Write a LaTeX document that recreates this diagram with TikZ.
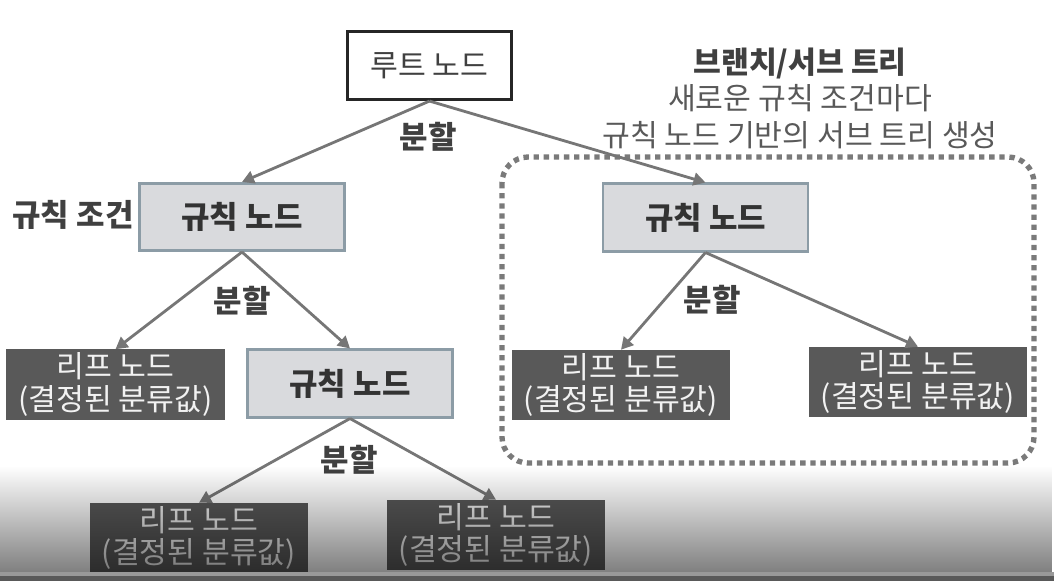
\documentclass[tikz,border=0pt]{standalone}
\usepackage{fontspec}
\setmainfont{Noto Sans CJK KR}
\usepackage{tikz}
\usetikzlibrary{arrows.meta,positioning,fadings}

\definecolor{edgegray}{HTML}{767676}
\definecolor{rulefill}{HTML}{D9DADD}
\definecolor{ruleline}{HTML}{8C9CA6}
\definecolor{leaffill}{HTML}{595959}
\definecolor{labeltext}{HTML}{404040}
\definecolor{softtext}{HTML}{595959}
\definecolor{framegray}{HTML}{7A7A7A}

\begin{document}
\begin{tikzpicture}[x=0.025cm, y=-0.025cm,
    font=\fontsize{21.5}{23}\selectfont,
    rootbox/.style={draw=black!85, line width=2.2pt, fill=white, minimum width=4.1cm, minimum height=1.7cm, text=labeltext},
    rulebox/.style={draw=ruleline, line width=2pt, fill=rulefill, minimum width=5.12cm, minimum height=1.68cm, font=\fontsize{22}{23}\selectfont\bfseries, text=black!80},
    leafbox/.style={fill=leaffill, minimum width=5.47cm, minimum height=1.75cm, align=center, inner sep=1pt, text=white!95!black},
    splitlabel/.style={font=\fontsize{22}{23}\selectfont\bfseries, text=labeltext},
    split/.style={draw=edgegray, line width=2pt, -{Triangle[length=3mm,width=3.2mm]}}]
    \useasboundingbox (0,0) rectangle (1054,581);

    % subtree frame
    \draw[framegray, line width=3.8pt, dash pattern=on 3.8pt off 3.4pt, rounded corners=0.65cm] (502,157) rectangle (1034,463);
    \node[align=center, font=\fontsize{21.5}{26}\selectfont, text=softtext] (title) at (800,98)
        {\textcolor{labeltext}{\bfseries 브랜치/서브 트리}\\새로운 규칙 조건마다\\규칙 노드 기반의 서브 트리 생성};

    % nodes
    \node[rootbox] (root) at (429.5,65.5) {루트 노드};
    \node[rulebox] (r1) at (242,217) {규칙 노드};
    \node[rulebox] (r2) at (350,383.5) {규칙 노드};
    \node[rulebox] (r3) at (705.5,217.5) {규칙 노드};
    \node[leafbox] (l1) at (115.5,384.5) {리프 노드\\(결정된 분류값)};
    \node[leafbox] (l2) at (199,538) {리프 노드\\(결정된 분류값)};
    \node[leafbox] (l3) at (496,535) {리프 노드\\(결정된 분류값)};
    \node[leafbox] (l4) at (621,385) {리프 노드\\(결정된 분류값)};
    \node[leafbox] (l5) at (918,382) {리프 노드\\(결정된 분류값)};
    \node[splitlabel] (cond) at (73,215) {규칙 조건};

    % edges
    \draw[split] (root.south) -- (r1.north);
    \draw[split] (root.south) -- (r3.north);
    \draw[split] (r1.south) -- (l1.north);
    \draw[split] (r1.south) -- (r2.north);
    \draw[split] (r2.south) -- (l2.north);
    \draw[split] (r2.south) -- (l3.north);
    \draw[split] (r3.south) -- (l4.north);
    \draw[split] (r3.south) -- (l5.north);
    \node[splitlabel] (s1) at (428,137) {분할};
    \node[splitlabel] (s2) at (242,301) {분할};
    \node[splitlabel] (s3) at (349,460) {분할};
    \node[splitlabel] (s4) at (712,300) {분할};

    % screen shade at the bottom
    \fill[black, opacity=0.5, path fading=north] (0,466) rectangle (1054,572);
    \fill[black!40] (0,572) rectangle (1054,576);
    \fill[black!65] (0,576) rectangle (1054,581);
\end{tikzpicture}
\end{document}
